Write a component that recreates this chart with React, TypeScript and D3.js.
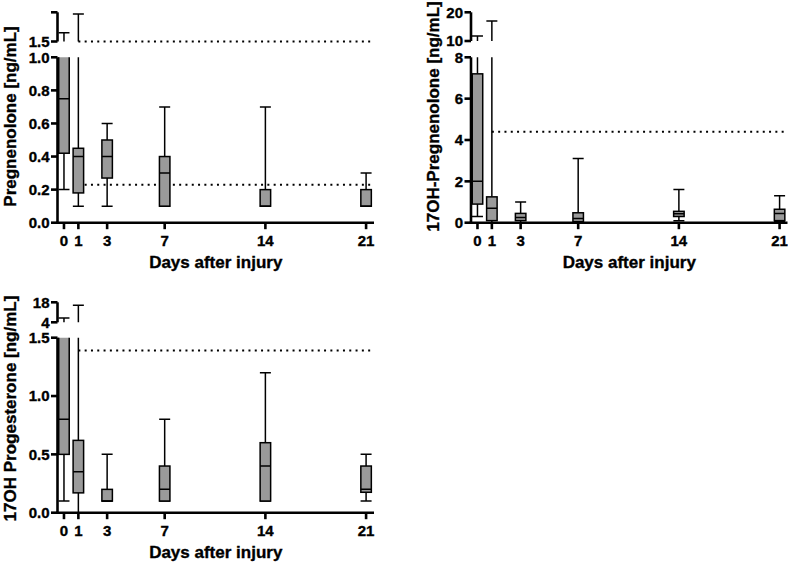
import React from "react";
import * as d3 from "d3";

const days = [0, 1, 3, 7, 14, 21];
const dayLabels = ["0", "1", "3", "7", "14", "21"];
const xLabel = "Days after injury";

// Pregnenolone
const pregMin = [0.2, 0.1, 0.1, 0.1, 0.1, 0.1];
const pregQ1 = [0.42, 0.18, 0.27, 0.1, 0.1, 0.1];
const pregMedian = [0.75, 0.4, 0.4, 0.3, 0.1, 0.1];
const pregQ3 = [1.2, 0.45, 0.5, 0.4, 0.2, 0.2];
const pregMax = [1.65, 1.97, 0.6, 0.7, 0.7, 0.3];
const pregRefs = [1.5, 0.23];
const pregLowerDomain = [0, 1.0];
const pregUpperDomain = [1.5, 2.0];
const pregLowerTicks = [0, 0.2, 0.4, 0.6, 0.8, 1.0];
const pregLowerTickLabels = ["0.0", "0.2", "0.4", "0.6", "0.8", "1.0"];
const pregUpperTicks = [1.5, 2.0];
const pregUpperTickLabels = ["1.5", ""];
const pregTitle = "Pregnenolone [ng/mL]";

// 17OH-Pregnenolone
const ohPregMin = [0.3, 0, 0, 0, 0.1, 0.05];
const ohPregQ1 = [0.9, 0.1, 0.1, 0.05, 0.3, 0.1];
const ohPregMedian = [2.0, 0.7, 0.25, 0.2, 0.43, 0.45];
const ohPregQ3 = [7.2, 1.25, 0.45, 0.48, 0.55, 0.65];
const ohPregMax = [11.7, 17, 1.0, 3.1, 1.6, 1.3];
const ohPregRefs = [4.4];
const ohPregLowerDomain = [0, 8];
const ohPregUpperDomain = [10, 20];
const ohPregLowerTicks = [0, 2, 4, 6, 8];
const ohPregLowerTickLabels = ["0", "2", "4", "6", "8"];
const ohPregUpperTicks = [10, 20];
const ohPregUpperTickLabels = ["10", "20"];
const ohPregTitle = "17OH-Pregnenolone [ng/mL]";

// 17OH Progesterone
const ohProgMin = [0.1, 0, 0.1, 0.1, 0.1, 0.1];
const ohProgQ1 = [0.5, 0.17, 0.1, 0.1, 0.1, 0.175];
const ohProgMedian = [0.8, 0.35, 0.1, 0.2, 0.4, 0.2];
const ohProgQ3 = [2.0, 0.62, 0.2, 0.4, 0.6, 0.4];
const ohProgMax = [7, 16, 0.5, 0.8, 1.2, 0.5];
const ohProgRefs = [1.39];
const ohProgLowerDomain = [0, 1.5];
const ohProgUpperDomain = [4, 18];
const ohProgLowerTicks = [0, 0.5, 1.0, 1.5];
const ohProgLowerTickLabels = ["0.0", "0.5", "1.0", "1.5"];
const ohProgUpperTicks = [4, 18];
const ohProgUpperTickLabels = ["4", "18"];
const ohProgTitle = "17OH Progesterone [ng/mL]";

const FONT = "'Liberation Sans', Arial, Helvetica, sans-serif";
const BOX_FILL = "#9a9a9a";
const TEXT_STROKE = 0.35;

type PanelProps = {
  id: string;
  mins: number[];
  q1s: number[];
  medians: number[];
  q3s: number[];
  maxs: number[];
  refs: number[];
  lowerDomain: number[];
  upperDomain: number[];
  lowerTicks: number[];
  lowerTickLabels: string[];
  upperTicks: number[];
  upperTickLabels: string[];
  title: string;
  axisX: number;
  axisEnd: number;
  axisY: number;
  lowerTop: number;
  upperBottom: number;
  upperTop: number;
  titleX: number;
  titleY: number;
};

function Panel(p: PanelProps) {
  const x = d3.scaleLinear().domain([-0.45, 21.55]).range([p.axisX, p.axisEnd]);
  const yL = d3.scaleLinear().domain(p.lowerDomain).range([p.axisY, p.lowerTop]);
  const yU = d3.scaleLinear().domain(p.upperDomain).range([p.upperBottom, p.upperTop]);
  const boxW = 10.5;
  const capW = 11;

  const drawBoxes = (y: d3.ScaleLinear<number, number>, clip: string) => (
    <g clipPath={`url(#${clip})`}>
      {days.map((d, i) => {
        const cx = x(d);
        return (
          <g key={i}>
            <line x1={cx} x2={cx} y1={y(p.q1s[i])} y2={y(p.mins[i])} stroke="#000" strokeWidth={1.5} />
            <line x1={cx} x2={cx} y1={y(p.q3s[i])} y2={y(p.maxs[i])} stroke="#000" strokeWidth={1.5} />
            <line x1={cx - capW / 2} x2={cx + capW / 2} y1={y(p.mins[i])} y2={y(p.mins[i])} stroke="#000" strokeWidth={1.5} />
            <line x1={cx - capW / 2} x2={cx + capW / 2} y1={y(p.maxs[i])} y2={y(p.maxs[i])} stroke="#000" strokeWidth={1.5} />
            <rect
              x={cx - boxW / 2}
              width={boxW}
              y={y(p.q3s[i])}
              height={y(p.q1s[i]) - y(p.q3s[i])}
              fill={BOX_FILL}
              stroke="#000"
              strokeWidth={1.5}
            />
            <line x1={cx - boxW / 2} x2={cx + boxW / 2} y1={y(p.medians[i])} y2={y(p.medians[i])} stroke="#000" strokeWidth={1.5} />
          </g>
        );
      })}
    </g>
  );

  const refY = (v: number) => (v >= p.upperDomain[0] ? yU(v) : yL(v));
  const textProps = {
    fontFamily: FONT,
    fontWeight: "bold" as const,
    stroke: "#000",
    strokeWidth: TEXT_STROKE,
    fill: "#000",
  };

  return (
    <g>
      <defs>
        <clipPath id={`${p.id}-lower`}>
          <rect x={p.axisX} y={p.lowerTop} width={p.axisEnd - p.axisX} height={p.axisY - p.lowerTop + 3} />
        </clipPath>
        <clipPath id={`${p.id}-upper`}>
          <rect x={p.axisX} y={p.upperTop - 6} width={p.axisEnd - p.axisX} height={p.upperBottom - p.upperTop + 6} />
        </clipPath>
      </defs>
      {p.refs.map((v, i) => (
        <line
          key={i}
          x1={x(1)}
          x2={p.axisEnd}
          y1={refY(v)}
          y2={refY(v)}
          stroke="#000"
          strokeWidth={2}
          strokeDasharray="2 4.3"
        />
      ))}
      {drawBoxes(yL, `${p.id}-lower`)}
      {drawBoxes(yU, `${p.id}-upper`)}
      {/* y axis lower */}
      <line x1={p.axisX} x2={p.axisX} y1={p.axisY + 1.25} y2={p.lowerTop} stroke="#000" strokeWidth={2.6} />
      {p.lowerTicks.map((t, i) => (
        <g key={i}>
          <line x1={p.axisX - 6.5} x2={p.axisX} y1={yL(t)} y2={yL(t)} stroke="#000" strokeWidth={2.6} />
          <text x={p.axisX - 8} y={yL(t)} dy="0.36em" textAnchor="end" fontSize={15} {...textProps}>
            {p.lowerTickLabels[i]}
          </text>
        </g>
      ))}
      {/* y axis upper */}
      <line x1={p.axisX} x2={p.axisX} y1={p.upperBottom} y2={p.upperTop} stroke="#000" strokeWidth={2.6} />
      {p.upperTicks.map((t, i) => (
        <g key={i}>
          <line x1={p.axisX - 6.5} x2={p.axisX} y1={yU(t)} y2={yU(t)} stroke="#000" strokeWidth={2.6} />
          <text x={p.axisX - 8} y={yU(t)} dy="0.36em" textAnchor="end" fontSize={15} {...textProps}>
            {p.upperTickLabels[i]}
          </text>
        </g>
      ))}
      {/* x axis */}
      <line x1={p.axisX - 1.3} x2={p.axisEnd} y1={p.axisY} y2={p.axisY} stroke="#000" strokeWidth={2.6} />
      {days.map((d, i) => (
        <g key={i}>
          <line x1={x(d)} x2={x(d)} y1={p.axisY} y2={p.axisY + 6.5} stroke="#000" strokeWidth={2.6} />
          <text x={x(d)} y={p.axisY + 23} textAnchor="middle" fontSize={15} {...textProps}>
            {dayLabels[i]}
          </text>
        </g>
      ))}
      <text x={(p.axisX + p.axisEnd) / 2} y={p.axisY + 45.6} textAnchor="middle" fontSize={17} {...textProps}>
        {xLabel}
      </text>
      <text
        transform={`translate(${p.titleX},${p.titleY}) rotate(-90)`}
        textAnchor="middle"
        fontSize={17}
        {...textProps}
      >
        {p.title}
      </text>
    </g>
  );
}

export default function App() {
  return (
    <div style={{ position: "absolute", left: 0, top: 0 }}>
      <svg width={788} height={563} style={{ display: "block", background: "#fff" }}>
        <rect width={788} height={563} fill="#fff" />
        <Panel
          id="p1"
          mins={pregMin}
          q1s={pregQ1}
          medians={pregMedian}
          q3s={pregQ3}
          maxs={pregMax}
          refs={pregRefs}
          lowerDomain={pregLowerDomain}
          upperDomain={pregUpperDomain}
          lowerTicks={pregLowerTicks}
          lowerTickLabels={pregLowerTickLabels}
          upperTicks={pregUpperTicks}
          upperTickLabels={pregUpperTickLabels}
          title={pregTitle}
          axisX={57.5}
          axisEnd={374}
          axisY={222.7}
          lowerTop={57.3}
          upperBottom={41.5}
          upperTop={12.3}
          titleX={16}
          titleY={116.5}
        />
        <Panel
          id="p2"
          mins={ohPregMin}
          q1s={ohPregQ1}
          medians={ohPregMedian}
          q3s={ohPregQ3}
          maxs={ohPregMax}
          refs={ohPregRefs}
          lowerDomain={ohPregLowerDomain}
          upperDomain={ohPregUpperDomain}
          lowerTicks={ohPregLowerTicks}
          lowerTickLabels={ohPregLowerTickLabels}
          upperTicks={ohPregUpperTicks}
          upperTickLabels={ohPregUpperTickLabels}
          title={ohPregTitle}
          axisX={471}
          axisEnd={787.5}
          axisY={222.7}
          lowerTop={57.3}
          upperBottom={41}
          upperTop={12.3}
          titleX={439}
          titleY={116.5}
        />
        <Panel
          id="p3"
          mins={ohProgMin}
          q1s={ohProgQ1}
          medians={ohProgMedian}
          q3s={ohProgQ3}
          maxs={ohProgMax}
          refs={ohProgRefs}
          lowerDomain={ohProgLowerDomain}
          upperDomain={ohProgUpperDomain}
          lowerTicks={ohProgLowerTicks}
          lowerTickLabels={ohProgLowerTickLabels}
          upperTicks={ohProgUpperTicks}
          upperTickLabels={ohProgUpperTickLabels}
          title={ohProgTitle}
          axisX={57.5}
          axisEnd={374}
          axisY={512.7}
          lowerTop={337.7}
          upperBottom={322.3}
          upperTop={302.3}
          titleX={16}
          titleY={408.5}
        />
      </svg>
    </div>
  );
}
